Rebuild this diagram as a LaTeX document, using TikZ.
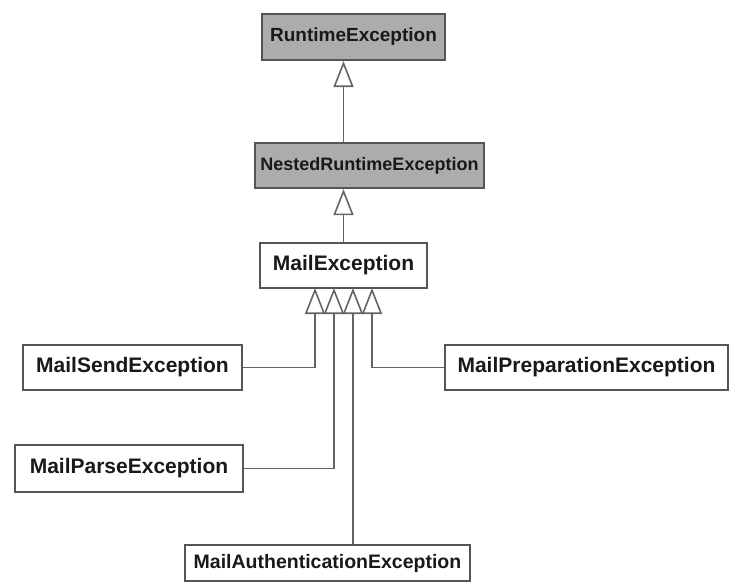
\documentclass[tikz,border=0pt]{standalone}
\usepackage{fontspec}
\setmainfont{Liberation Sans}
\usetikzlibrary{arrows.meta}
\definecolor{boxline}{RGB}{85,85,85}
\definecolor{boxgrey}{RGB}{172,172,172}
\definecolor{conn}{RGB}{100,100,100}
\definecolor{txt}{RGB}{25,25,25}
\begin{document}
\begin{tikzpicture}[x=1pt,y=-1pt,
  cls/.style={draw=boxline, line width=2.2pt, fill=white, inner sep=0pt,
    text=txt, font=\bfseries\fontsize{21}{24}\selectfont},
  abstr/.style={cls, fill=boxgrey},
  inh/.style={draw=conn, line width=1.8pt,
    -{Triangle[open, length=26pt, width=20pt, line width=1.6pt]}}]
\useasboundingbox (0,0) rectangle (730,583);
\fill[white] (0,0) rectangle (730,583);

\node[abstr, minimum width=183, minimum height=46, font=\bfseries\fontsize{19}{22}\selectfont] (rt) at (353.5,37) {RuntimeException};
\node[abstr, minimum width=229, minimum height=45, font=\bfseries\fontsize{18}{22}\selectfont] (nre) at (369.5,165.5) {NestedRuntimeException};
\node[cls, minimum width=167, minimum height=45] (me) at (343.5,265.5) {MailException};
\node[cls, minimum width=219, minimum height=45] (mse) at (132.5,367.5) {MailSendException};
\node[cls, minimum width=228, minimum height=47] (mpa) at (129,468.5) {MailParseException};
\node[cls, minimum width=285, minimum height=36, font=\bfseries\fontsize{19.5}{22}\selectfont] (mae) at (327.5,563) {MailAuthenticationException};
\node[cls, minimum width=283, minimum height=45] (mpr) at (586.5,367.5) {MailPreparationException};

\coordinate (t1) at (315,288);
\coordinate (t2) at (334,288);
\coordinate (t3) at (353,288);
\coordinate (t4) at (372,288);

\draw[inh] (nre.north -| me.north) -- (rt.south -| me.north);
\draw[inh] (me.north) -- (nre.south -| me.north);
\draw[inh] (mse.east) -| (t1);
\draw[inh] (mpa.east) -| (t2);
\draw[inh] (mae.north -| t3) -- (t3);
\draw[inh] (mpr.west) -| (t4);
\end{tikzpicture}
\end{document}
